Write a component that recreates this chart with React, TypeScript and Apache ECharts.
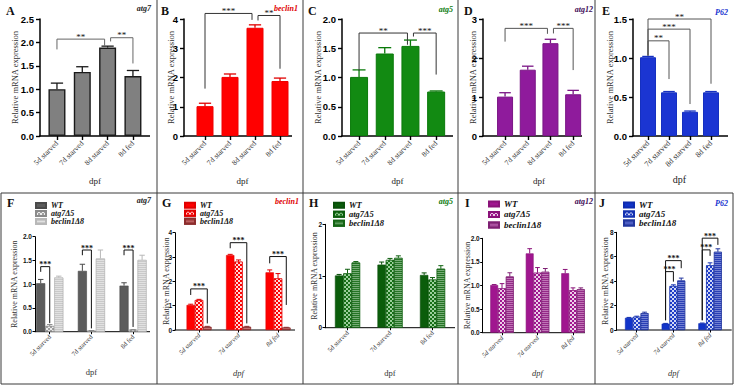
import React, { useEffect, useRef } from 'react';
import * as echarts from 'echarts';

const SERIF = '"Liberation Serif", "Times New Roman", serif';
const SANS = '"Liberation Sans", Arial, sans-serif';

// ---------- categories ----------
const topCategories = ['5d starved', '7d starved', '8d starved', '8d fed'];
const bottomCategories = ['5d starved', '7d starved', '8d fed'];
const genotypes = ['WT', 'atg7Δ5', 'beclin1Δ8'];
const yAxisTitle = 'Relative mRNA expression';
const xAxisTitle = 'dpf';

// ---------- A–E : wild-type time course ----------
const atg7Values = [1.0, 1.37, 1.89, 1.28];
const atg7Errors = [0.13, 0.11, 0.03, 0.12];
const beclin1Values = [1.02, 2.02, 3.7, 1.88];
const beclin1Errors = [0.1, 0.1, 0.1, 0.1];
const atg5Values = [1.01, 1.41, 1.54, 0.76];
const atg5Errors = [0.12, 0.1, 0.1, 0.01];
const atg12Values = [1.01, 1.7, 2.38, 1.07];
const atg12Errors = [0.1, 0.09, 0.1, 0.1];
const p62Values = [1.01, 0.56, 0.31, 0.56];
const p62Errors = [0.01, 0.01, 0.01, 0.01];

const atg7Brackets = [
  { from: 0, to: 2, top: 2.07, left: 1.85, right: 1.93, label: '**' },
  { from: 2, to: 3, top: 2.1, left: 2.02, right: 1.55, label: '**' },
];
const beclin1Brackets = [
  { from: 0, to: 2, top: 4.19, left: 1.62, right: 3.97, label: '***' },
  { from: 2, to: 3, top: 4.12, left: 3.95, right: 2.3, label: '**' },
];
const atg5Brackets = [
  { from: 0, to: 2, top: 1.76, left: 1.12, right: 1.56, label: '**' },
  { from: 2, to: 3, top: 1.76, left: 1.7, right: 1.05, label: '***' },
];
const atg12Brackets = [
  { from: 0, to: 2, top: 2.76, left: 2.42, right: 2.62, label: '***' },
  { from: 2, to: 3, top: 2.76, left: 2.63, right: 1.69, label: '***' },
];
const p62Brackets = [
  { from: 0, to: 1, top: 1.22, left: 1.03, right: 0.73, label: '**' },
  { from: 0, to: 2, top: 1.37, left: 1.03, right: 0.41, label: '***' },
  { from: 0, to: 3, top: 1.5, left: 1.03, right: 0.67, label: '**' },
];

// ---------- F–J : mutants ----------
const fWT = [1.02, 1.28, 0.97];
const fWTErr = [0.08, 0.14, 0.06];
const fA5 = [0.12, 0.02, 0.04];
const fA5Err = [0.03, 0.005, 0.005];
const fB8 = [1.14, 1.54, 1.51];
const fB8Err = [0.03, 0.18, 0.1];
const fBrackets = [
  { cat: 0, fromBar: 0, toBar: 1, top: 1.37, left: 1.26, right: 0.18, label: '***' },
  { cat: 1, fromBar: 0, toBar: 1, top: 1.72, left: 1.61, right: 0.07, label: '***' },
  { cat: 2, fromBar: 0, toBar: 1, top: 1.72, left: 1.61, right: 0.1, label: '***' },
];

const gWT = [1.03, 3.08, 2.37];
const gWTErr = [0.03, 0.03, 0.1];
const gA5 = [1.23, 2.81, 2.12];
const gA5Err = [0.03, 0.07, 0.2];
const gB8 = [0.13, 0.13, 0.1];
const gB8Err = [0.02, 0.02, 0.01];
const gBrackets = [
  { cat: 0, fromBar: 0, toBar: 2, top: 1.69, left: 1.44, right: 0.27, label: '***' },
  { cat: 1, fromBar: 0, toBar: 2, top: 3.59, left: 3.36, right: 0.27, label: '***' },
  { cat: 2, fromBar: 0, toBar: 2, top: 3.02, left: 2.74, right: 1.03, label: '***' },
];

const hWT = [1.01, 1.22, 1.02];
const hWTErr = [0.02, 0.05, 0.04];
const hA5 = [1.05, 1.31, 0.93];
const hA5Err = [0.08, 0.03, 0.04];
const hB8 = [1.26, 1.35, 1.14];
const hB8Err = [0.02, 0.04, 0.06];
const hBrackets: any[] = [];

const iWT = [1.01, 1.68, 1.26];
const iWTErr = [0.01, 0.1, 0.08];
const iA5 = [0.94, 1.27, 0.9];
const iA5Err = [0.1, 0.11, 0.05];
const iB8 = [1.19, 1.29, 0.92];
const iB8Err = [0.08, 0.07, 0.03];
const iBrackets: any[] = [];

const jWT = [1.0, 0.52, 0.55];
const jWTErr = [0.03, 0.02, 0.02];
const jA5 = [1.08, 3.6, 5.3];
const jA5Err = [0.05, 0.1, 0.2];
const jB8 = [1.38, 4.05, 6.4];
const jB8Err = [0.08, 0.2, 0.25];
const jBrackets = [
  { cat: 1, fromBar: 0, toBar: 1, top: 4.78, left: 0.8, right: 3.96, label: '***' },
  { cat: 1, fromBar: 0, toBar: 2, top: 5.68, left: 0.8, right: 5.06, label: '***' },
  { cat: 2, fromBar: 0, toBar: 1, top: 6.56, left: 0.8, right: 6.07, label: '***' },
  { cat: 2, fromBar: 0, toBar: 2, top: 7.52, left: 0.8, right: 6.97, label: '***' },
];

// ---------- styling / layout ----------
const checker = (c: string) => ({
  symbol: 'rect', symbolSize: 1, color: c,
  dashArrayX: [[2, 2], [0, 2, 2, 0]], dashArrayY: [2, 0], rotation: 0,
});
const stripes = (c: string) => ({
  symbol: 'rect', symbolSize: 1, color: c,
  dashArrayX: [6, 0], dashArrayY: [1, 1], rotation: 0,
});

const TOP_Y = 19;
const TOP_H = 117;

const topPanels = [
  { letter: 'A', gene: 'atg7', geneColor: '#222', fill: '#808080', edge: '#1a1a1a', edgeW: 1.4, err: '#1a1a1a', bracket: '#666',
    values: atg7Values, errors: atg7Errors, brackets: atg7Brackets, max: 2.5, step: 0.5, dec: 1,
    axisX: 40, left: 44.3, width: 101.3, end: 150, barW: 17, nameGap: 21, xNameGap: 40, letterX: 6, geneX: 151, geneY: 8 },
  { letter: 'B', gene: 'beclin1', geneColor: '#e00000', fill: '#ff0000', edge: '#ee0000', edgeW: 1, err: '#e00000', bracket: '#333',
    values: beclin1Values, errors: beclin1Errors, brackets: beclin1Brackets, max: 4, step: 1, dec: 0,
    axisX: 184, left: 192.5, width: 100, end: 292, barW: 17, nameGap: 9, xNameGap: 40, letterX: 161, geneX: 298, geneY: 8 },
  { letter: 'C', gene: 'atg5', geneColor: '#0a7a0a', fill: '#128a12', edge: '#0a7a0a', edgeW: 1, err: '#0a7a0a', bracket: '#333',
    values: atg5Values, errors: atg5Errors, brackets: atg5Brackets, max: 2, step: 0.5, dec: 1,
    axisX: 342, left: 346.2, width: 102.8, end: 453, barW: 18, nameGap: 20, xNameGap: 40, letterX: 308, geneX: 453, geneY: 9 },
  { letter: 'D', gene: 'atg12', geneColor: '#3d0a55', fill: '#8f1b9c', edge: '#7a1585', edgeW: 1, err: '#7a1585', bracket: '#555',
    values: atg12Values, errors: atg12Errors, brackets: atg12Brackets, max: 3, step: 1, dec: 0,
    axisX: 483, left: 493.7, width: 90.8, end: 582, barW: 16, nameGap: 6, xNameGap: 40, letterX: 464, geneX: 593, geneY: 9 },
  { letter: 'E', gene: 'P62', geneColor: '#1a35d0', fill: '#1b35d2', edge: '#1530c0', edgeW: 1, err: '#1530c0', bracket: '#555',
    values: p62Values, errors: p62Errors, brackets: p62Brackets, max: 1.5, step: 0.5, dec: 1,
    axisX: 633, left: 637.5, width: 84, end: 728, barW: 16, nameGap: 19, xNameGap: 38, letterX: 602, geneX: 728, geneY: 12 },
];

const bottomPanels = [
  { letter: 'F', gene: 'atg7', geneColor: '#222',
    vals: [fWT, fA5, fB8], errs: [fWTErr, fA5Err, fB8Err], brackets: fBrackets,
    fills: ['#5c5c5c', '#a0a0a0', '#c9c9c9'], edges: ['#4a4a4a', '#8a8a8a', '#b8b8b8'],
    decals: [null, checker('rgba(255,255,255,0.8)'), stripes('rgba(255,255,255,0.45)')],
    max: 2, step: 0.5, dec: 1,
    axisX: 35, left: 28.9, width: 125, top: 236.7, height: 95, end: 150, gap: '35%', nameGap: 17, xNameGap: 36, italicName: false,
    legendLeft: 35, legendTop: 201.5, lineH: 7, legendFont: 8, letterX: 7, geneX: 151, geneY: 200 },
  { letter: 'G', gene: 'beclin1', geneColor: '#e00000',
    vals: [gWT, gA5, gB8], errs: [gWTErr, gA5Err, gB8Err], brackets: gBrackets,
    fills: ['#ff0000', '#ff0000', '#a43c3c'], edges: ['#e00000', '#e00000', '#8c2e2e'],
    decals: [null, checker('rgba(255,255,255,0.85)'), stripes('rgba(255,210,210,0.35)')],
    max: 4, step: 1, dec: 0,
    axisX: 175, left: 179.25, width: 118.5, top: 232.7, height: 97.3, end: 295, gap: '37%', nameGap: 5, xNameGap: 38, italicName: true,
    legendLeft: 184, legendTop: 201.2, lineH: 7.5, legendFont: 8, letterX: 162, geneX: 299, geneY: 201 },
  { letter: 'H', gene: 'atg5', geneColor: '#0a7a0a',
    vals: [hWT, hA5, hB8], errs: [hWTErr, hA5Err, hB8Err], brackets: hBrackets,
    fills: ['#0b5d0b', '#176f17', '#257525'], edges: ['#0a4f0a', '#0d5d0d', '#156515'],
    decals: [null, checker('rgba(200,240,200,0.75)'), stripes('rgba(220,240,220,0.45)')],
    max: 2, step: 1, dec: 0,
    axisX: 325, left: 326.25, width: 127.5, top: 224.3, height: 103.4, end: 455, gap: '41%', nameGap: 7, xNameGap: 41, italicName: false,
    legendLeft: 333, legendTop: 200.7, lineH: 8.5, legendFont: 8.5, letterX: 309, geneX: 453, geneY: 201 },
  { letter: 'I', gene: 'atg12', geneColor: '#3d0a55',
    vals: [iWT, iA5, iB8], errs: [iWTErr, iA5Err, iB8Err], brackets: iBrackets,
    fills: ['#a0168f', '#a0168f', '#952a88'], edges: ['#8a1279', '#8a1279', '#7e2073'],
    decals: [null, checker('rgba(255,255,255,0.8)'), stripes('rgba(255,230,250,0.4)')],
    max: 2, step: 0.5, dec: 1,
    axisX: 482.7, left: 484.25, width: 106.5, top: 238.3, height: 94.4, end: 585, gap: '34%', nameGap: 11, xNameGap: 36, italicName: true,
    legendLeft: 488, legendTop: 198.7, lineH: 10.5, legendFont: 9, letterX: 465, geneX: 593, geneY: 201 },
  { letter: 'J', gene: 'P62', geneColor: '#1a35d0',
    vals: [jWT, jA5, jB8], errs: [jWTErr, jA5Err, jB8Err], brackets: jBrackets,
    fills: ['#1234c9', '#1e3cc8', '#2a3fb5'], edges: ['#0f2cb0', '#1532b0', '#22369e'],
    decals: [null, checker('rgba(255,255,255,0.8)'), stripes('rgba(220,225,255,0.4)')],
    max: 8, step: 2, dec: 0,
    axisX: 616.7, left: 618.4, width: 110, top: 232.3, height: 97.7, end: 731.7, gap: '36%', nameGap: 7, xNameGap: 38, italicName: true,
    legendLeft: 623, legendTop: 200.5, lineH: 9, legendFont: 9, letterX: 599, geneX: 728, geneY: 203 },
];

function buildOption() {
  const grid: any[] = [];
  const xAxis: any[] = [];
  const yAxis: any[] = [];
  const series: any[] = [];
  const legend: any[] = [];
  const graphic: any[] = [];

  const textEl = (x: number, y: number, text: string, font: string, fill: string, align: string) => ({
    type: 'text', x, y, silent: true,
    style: { text, font, fill, align, textAlign: align, verticalAlign: 'middle', textVerticalAlign: 'middle' },
  });
  const lineEl = (x1: number, y1: number, x2: number, y2: number, w: number, c: string) => ({
    type: 'line', silent: true, shape: { x1, y1, x2, y2 }, style: { stroke: c, lineWidth: w },
  });

  // ---- top row ----
  topPanels.forEach((p, i) => {
    grid.push({ left: p.left, top: TOP_Y, width: p.width, height: TOP_H, containLabel: false, outerBoundsMode: 'none' });
    xAxis.push({
      gridIndex: i, type: 'category', data: topCategories,
      name: xAxisTitle, nameLocation: 'middle', nameGap: p.xNameGap, nameMoveOverlap: false,
      nameTextStyle: { fontFamily: SERIF, fontSize: p.letter === 'E' ? 10 : 9, color: '#222' },
      axisLine: { show: false },
      axisTick: { show: true, alignWithLabel: true, length: 4, lineStyle: { color: '#000', width: 1.4 } },
      axisLabel: { interval: 0, rotate: 45, fontFamily: SERIF, fontSize: p.letter === 'E' ? 8 : 7.5, color: '#333', margin: 6 },
      splitLine: { show: false },
    });
    yAxis.push({
      gridIndex: i, type: 'value', min: 0, max: p.max, interval: p.step, offset: p.left - p.axisX,
      name: yAxisTitle, nameLocation: 'middle', nameGap: p.nameGap, nameMoveOverlap: false,
      nameTextStyle: { fontFamily: SERIF, fontSize: 8.5, color: '#333' },
      axisLine: { show: true, lineStyle: { color: '#000', width: 1.5 } },
      axisTick: { show: true, length: 4, lineStyle: { color: '#000', width: 1.4 } },
      axisLabel: { fontFamily: SANS, fontWeight: 'bold', fontSize: 9.5, color: '#000', margin: 6,
        formatter: (v: number) => v.toFixed(p.dec) },
      splitLine: { show: false },
    });
    series.push({
      type: 'bar', name: 'bar' + p.letter, xAxisIndex: i, yAxisIndex: i, data: p.values, barWidth: p.barW, silent: true, z: 2,
      itemStyle: { color: p.fill, borderColor: p.edge, borderWidth: p.edgeW },
    });
    const cap = p.barW * 0.72;
    series.push({
      type: 'custom', name: 'err' + p.letter, xAxisIndex: i, yAxisIndex: i, z: 4, silent: true, clip: false,
      encode: { x: 0, y: 1 },
      data: p.values.map((v, k) => [k, v, p.errors[k]]),
      renderItem: (_params: any, api: any) => {
        const x = api.value(0), v = api.value(1), e = api.value(2);
        const a = api.coord([x, v]);
        const b = api.coord([x, v + e]);
        const st = { stroke: p.err, lineWidth: 1.3 };
        return { type: 'group', children: [
          { type: 'line', shape: { x1: a[0], y1: a[1], x2: b[0], y2: b[1] }, style: st },
          { type: 'line', shape: { x1: b[0] - cap / 2, y1: b[1], x2: b[0] + cap / 2, y2: b[1] }, style: st },
        ] };
      },
    });
    const br = p.brackets;
    series.push({
      type: 'custom', name: 'sig' + p.letter, xAxisIndex: i, yAxisIndex: i, z: 5, silent: true, clip: false,
      encode: { x: 0, y: 1 },
      data: br.map((b) => [b.from, b.top]),
      renderItem: (params: any, api: any) => {
        const b = br[params.dataIndex];
        const fromShared = br.some((o) => o !== b && o.to === b.from);
        const toShared = br.some((o) => o !== b && o.from === b.to);
        const xl = api.coord([b.from, 0])[0] + (fromShared ? 3 : 0);
        const xr = api.coord([b.to, 0])[0] - (toShared ? 3 : 0);
        const yt = api.coord([b.from, b.top])[1];
        const yl = api.coord([b.from, b.left])[1];
        const yr = api.coord([b.to, b.right])[1];
        return { type: 'group', children: [
          { type: 'polyline', shape: { points: [[xl, yl], [xl, yt], [xr, yt], [xr, yr]] },
            style: { stroke: p.bracket, lineWidth: 1, fill: 'none' } },
          { type: 'text', x: (xl + xr) / 2, y: yt + 2,
            style: { text: b.label, font: `9px ${SERIF}`, fill: '#111', align: 'center', textAlign: 'center',
              verticalAlign: 'bottom', textVerticalAlign: 'bottom' } },
        ] };
      },
    });
    const baseY = TOP_Y + TOP_H;
    graphic.push(lineEl(p.axisX - 0.75, baseY, p.end, baseY, 1.5, '#000'));
    graphic.push(textEl(p.letterX, 11, p.letter, `bold 12px ${SERIF}`, '#111', 'left'));
    graphic.push(textEl(p.geneX, p.geneY, p.gene, `italic bold 8px ${SERIF}`, p.geneColor, 'right'));
  });

  // ---- bottom row ----
  bottomPanels.forEach((p, j) => {
    const i = j + topPanels.length;
    const gapRatio = parseFloat(p.gap) / 100;
    grid.push({ left: p.left, top: p.top, width: p.width, height: p.height, containLabel: false, outerBoundsMode: 'none' });
    xAxis.push({
      gridIndex: i, type: 'category', data: bottomCategories,
      name: xAxisTitle, nameLocation: 'middle', nameGap: p.xNameGap, nameMoveOverlap: false,
      nameTextStyle: { fontFamily: SERIF, fontSize: 8.5, color: '#333', fontStyle: p.italicName ? 'italic' : 'normal' },
      axisLine: { show: false },
      axisTick: { show: true, alignWithLabel: true, length: 2.5, lineStyle: { color: '#000', width: 1 } },
      axisLabel: { interval: 0, rotate: 45, fontFamily: SERIF, fontSize: 6.5, color: '#333', margin: 4,
        fontStyle: p.italicName ? 'italic' : 'normal' },
      splitLine: { show: false },
    });
    yAxis.push({
      gridIndex: i, type: 'value', min: 0, max: p.max, interval: p.step, offset: p.left - p.axisX,
      name: yAxisTitle, nameLocation: 'middle', nameGap: p.nameGap, nameMoveOverlap: false,
      nameTextStyle: { fontFamily: SERIF, fontSize: 8, color: '#333' },
      axisLine: { show: true, lineStyle: { color: '#000', width: 1 } },
      axisTick: { show: true, length: 2.5, lineStyle: { color: '#000', width: 1 } },
      axisLabel: { fontFamily: SANS, fontWeight: 'bold', fontSize: 6.5, color: '#111', margin: 3,
        formatter: (v: number) => v.toFixed(p.dec) },
      splitLine: { show: false },
    });
    const names = genotypes.map((g) => g + '#' + p.letter);
    p.vals.forEach((vals, g) => {
      const itemStyle: any = { color: p.fills[g], borderColor: p.edges[g], borderWidth: 0.6 };
      if (p.decals[g]) itemStyle.decal = p.decals[g];
      series.push({
        type: 'bar', name: names[g], xAxisIndex: i, yAxisIndex: i, data: vals, silent: true, z: 2,
        barGap: '0%', barCategoryGap: p.gap, itemStyle,
      });
    });
    const errData: number[][] = [];
    p.vals.forEach((vals, g) => vals.forEach((v, c) => errData.push([c, v, p.errs[g][c], g])));
    series.push({
      type: 'custom', name: 'err' + p.letter, xAxisIndex: i, yAxisIndex: i, z: 4, silent: true, clip: false,
      encode: { x: 0, y: 1 },
      data: errData,
      renderItem: (_params: any, api: any) => {
        const x = api.value(0), v = api.value(1), e = api.value(2), g = api.value(3);
        const band = api.size([1, 0])[0];
        const bw = (band * (1 - gapRatio)) / 3;
        const off = (g - 1) * bw;
        const a = api.coord([x, v]);
        const b = api.coord([x, v + e]);
        const cap = bw * 0.6;
        const st = { stroke: p.edges[g], lineWidth: 1 };
        return { type: 'group', children: [
          { type: 'line', shape: { x1: a[0] + off, y1: a[1], x2: b[0] + off, y2: b[1] }, style: st },
          { type: 'line', shape: { x1: b[0] + off - cap / 2, y1: b[1], x2: b[0] + off + cap / 2, y2: b[1] }, style: st },
        ] };
      },
    });
    const br = p.brackets;
    if (br.length) {
      series.push({
        type: 'custom', name: 'sig' + p.letter, xAxisIndex: i, yAxisIndex: i, z: 5, silent: true, clip: false,
        encode: { x: 0, y: 1 },
        data: br.map((b: any) => [b.cat, b.top]),
        renderItem: (params: any, api: any) => {
          const b = br[params.dataIndex];
          const band = api.size([1, 0])[0];
          const bw = (band * (1 - gapRatio)) / 3;
          const cx = api.coord([b.cat, 0])[0];
          const xl = cx + (b.fromBar - 1) * bw;
          const xr = cx + (b.toBar - 1) * bw;
          const yt = api.coord([b.cat, b.top])[1];
          const yl = api.coord([b.cat, b.left])[1];
          const yr = api.coord([b.cat, b.right])[1];
          return { type: 'group', children: [
            { type: 'polyline', shape: { points: [[xl, yl], [xl, yt], [xr, yt], [xr, yr]] },
              style: { stroke: '#111', lineWidth: 1, fill: 'none' } },
            { type: 'text', x: (xl + xr) / 2, y: yt + 2,
              style: { text: b.label, font: `bold 8px ${SERIF}`, fill: '#111', align: 'center', textAlign: 'center',
                verticalAlign: 'bottom', textVerticalAlign: 'bottom' } },
          ] };
        },
      });
    }
    legend.push({
      orient: 'vertical', left: p.legendLeft, top: p.legendTop, padding: 0, itemGap: 0,
      itemWidth: 10, itemHeight: 5, icon: 'rect', selectedMode: false,
      data: names, formatter: (n: string) => n.split('#')[0],
      textStyle: { fontFamily: SERIF, fontStyle: 'italic', fontWeight: 'bold', fontSize: p.legendFont,
        lineHeight: p.lineH, color: '#111', padding: 0 },
    });
    const baseY = p.top + p.height;
    graphic.push(lineEl(p.axisX - 0.5, baseY, p.end, baseY, 1, '#000'));
    graphic.push(textEl(p.letterX, 203, p.letter, `bold 12px ${SERIF}`, '#111', 'left'));
    graphic.push(textEl(p.geneX, p.geneY, p.gene, `italic bold 8px ${SERIF}`, p.geneColor, 'right'));
  });

  // ---- panel frames ----
  const frame = '#3a3a3a';
  [157, 303, 458, 595].forEach((x) => graphic.push(lineEl(x, 0, x, 384, 1, frame)));
  graphic.push(lineEl(1, 193, 733, 193, 1, frame));
  graphic.push(lineEl(1, 384, 733, 384, 1, frame));
  graphic.push(lineEl(1, 193, 1, 384, 1, frame));
  graphic.push(lineEl(733, 193, 733, 384, 1, frame));

  return {
    animation: false,
    backgroundColor: '#ffffff',
    grid, xAxis, yAxis, series, legend,
    graphic: { elements: graphic },
  };
}

export default function App() {
  const ref = useRef<HTMLDivElement>(null);
  useEffect(() => {
    document.body.style.margin = '0';
    const chart = echarts.init(ref.current as HTMLDivElement, undefined, { renderer: 'svg' });
    chart.setOption(buildOption() as any);
    return () => chart.dispose();
  }, []);
  return <div ref={ref} style={{ width: 735, height: 387, background: '#fff' }} />;
}
